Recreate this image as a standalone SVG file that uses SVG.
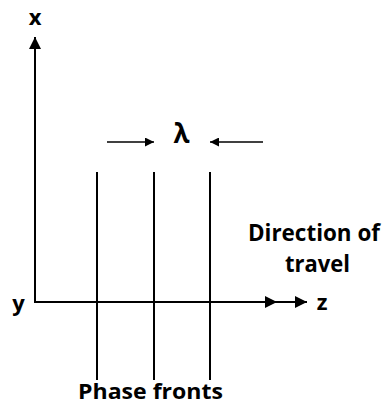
<svg xmlns="http://www.w3.org/2000/svg" width="383" height="405" viewBox="0 0 383 405">
  <style>
    .lbl { font-family: "Open Sans", "Liberation Sans", sans-serif; font-weight: bold; fill: #000; }
    .ax { stroke: #000; stroke-width: 2; fill: none; }
    .pf { stroke: #000; stroke-width: 2; fill: none; }
    .la { stroke: #000; stroke-width: 1.5; fill: none; }
  </style>
  <defs>
    <marker id="ah" viewBox="0 0 10 10" refX="10" refY="5" markerWidth="6" markerHeight="6" markerUnits="strokeWidth" orient="auto">
      <path d="M0,0 L10,5 L0,10 Z" fill="#000"/>
    </marker>
  </defs>
  <rect width="383" height="405" fill="#fff"/>
  <g id="connectors">
    <line id="x-axis" class="ax" x1="35" y1="303" x2="35" y2="37" marker-end="url(#ah)"/>
    <line id="z-axis" class="ax" x1="34" y1="302" x2="277" y2="302" marker-end="url(#ah)"/>
    <line id="z-axis-ext" class="ax" x1="277" y1="302" x2="307" y2="302" marker-end="url(#ah)"/>
    <line id="lambda-left" class="la" x1="107" y1="142" x2="154" y2="142" marker-end="url(#ah)"/>
    <line id="lambda-right" class="la" x1="263" y1="142" x2="210" y2="142" marker-end="url(#ah)"/>
  </g>
  <g id="phase-fronts">
    <line class="pf" x1="97" y1="172" x2="97" y2="380"/>
    <line class="pf" x1="154" y1="172" x2="154" y2="380"/>
    <line class="pf" x1="210" y1="172" x2="210" y2="380"/>
  </g>
  <g id="label-x"><text class="lbl" x="35" y="25" font-size="22" text-anchor="middle">x</text></g>
  <g id="label-y"><text class="lbl" x="18.5" y="311" font-size="22" text-anchor="middle">y</text></g>
  <g id="label-z"><text class="lbl" x="322" y="310" font-size="22" text-anchor="middle">z</text></g>
  <g id="label-lambda"><text class="lbl" x="181.5" y="143" font-size="26" text-anchor="middle">λ</text></g>
  <g id="label-direction">
    <text class="lbl" x="248" y="241" font-size="24" textLength="132" lengthAdjust="spacingAndGlyphs">Direction of</text>
    <text class="lbl" x="285" y="272" font-size="24" textLength="65" lengthAdjust="spacingAndGlyphs">travel</text>
  </g>
  <g id="label-phase"><text class="lbl" x="78" y="399" font-size="22" textLength="145" lengthAdjust="spacingAndGlyphs">Phase fronts</text></g>
</svg>
